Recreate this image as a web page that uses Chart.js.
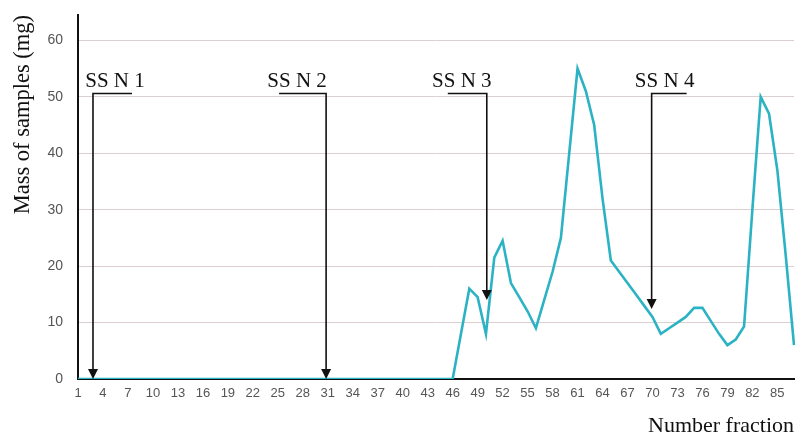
<!DOCTYPE html>
<html>
<head>
<meta charset="utf-8">
<script src="https://cdn.jsdelivr.net/npm/chart.js@4.4.1/dist/chart.umd.min.js"></script>
<style>
  html, body { margin: 0; padding: 0; background: #ffffff; }
  #wrap { width: 810px; height: 439px; }
</style>
</head>
<body>
<div id="wrap"><canvas id="myChart" width="810" height="439"></canvas></div>
<script>
// fractions 1..87
const fractions = [];
for (let i = 1; i <= 87; i++) fractions.push(String(i));

// mass of each fraction (mg)
const mass = [
  0, 0, 0, 0, 0, 0, 0, 0, 0, 0,       // 1-10
  0, 0, 0, 0, 0, 0, 0, 0, 0, 0,       // 11-20
  0, 0, 0, 0, 0, 0, 0, 0, 0, 0,       // 21-30
  0, 0, 0, 0, 0, 0, 0, 0, 0, 0,       // 31-40
  0, 0, 0, 0, 0, 0, 8, 16, 14.5, 8,   // 41-50
  21.5, 24.5, 17, 14.5, 12, 9, 14, 19, 25, 40,   // 51-60
  55, 51, 45, 32, 21, 19, 17, 15, 13, 11,        // 61-70
  8, 9, 10, 11, 12.6, 12.6, 10.3, 8, 6, 7,       // 71-80
  9.3, 30, 50, 47, 37, 22, 6                     // 81-87
];

// sample markers "SS N x": position on the x axis (fraction) and arrow tip value
const markerLabels = ["SS N 1", "SS N 2", "SS N 3", "SS N 4"];
const markerFraction = [2.8, 30.8, 50.1, 69.9];
const markerTip = [0, 0, 14, 12.4];
const markerLevel = 50.6;

const yTicks = [0, 10, 20, 30, 40, 50, 60];

// Vẽ mũi tên và chữ SS N
const markerPlugin = {
  id: "markers",
  afterDatasetsDraw(chart, args, opts) {
    const ctx = chart.ctx;
    const xs = chart.scales.x;
    const ys = chart.scales.y;
    ctx.save();
    ctx.strokeStyle = "#111";
    ctx.fillStyle = "#111";
    ctx.lineWidth = 1.6;
    ctx.font = "21px 'Liberation Serif', 'Times New Roman', serif";
    ctx.textAlign = "center";
    ctx.textBaseline = "alphabetic";
    markerLabels.forEach((lab, i) => {
      const x = xs.getPixelForValue(markerFraction[i] - 1);
      const yTop = ys.getPixelForValue(markerLevel);
      const yTip = ys.getPixelForValue(markerTip[i]);
      const x2 = x + opts.ledge[i];
      ctx.beginPath();
      ctx.moveTo(x2, yTop);
      ctx.lineTo(x, yTop);
      ctx.lineTo(x, yTip - 8);
      ctx.stroke();
      ctx.beginPath();
      ctx.moveTo(x - 5, yTip - 10);
      ctx.lineTo(x + 5, yTip - 10);
      ctx.lineTo(x, yTip);
      ctx.closePath();
      ctx.fill();
      ctx.fillText(lab, x + opts.textDx[i], yTop - 6);
    });
    ctx.restore();
  },
};

const data = {
  labels: fractions,
  datasets: [
    {
      data: mass,
      borderColor: "#2bb3c4",
      borderWidth: 2.6,
      pointRadius: 0,
      tension: 0,
      fill: false,
    },
  ],
};

const config = {
  type: "line",
  data: data,
  options: {
    responsive: false,
    animation: false,
    layout: { padding: { left: 8, right: 16, top: 15, bottom: 0 } },
    plugins: {
      legend: { display: false },
      tooltip: { enabled: false },
      markers: {
        ledge: [39, -47, -39, 35],
        textDx: [22, -29, -25, 13],
      },
    },
    scales: {
      x: {
        offset: false,
        grid: { display: false, drawTicks: false },
        border: { color: "#111", width: 2 },
        ticks: {
          autoSkip: false,
          maxRotation: 0,
          padding: 7,
          color: "#555",
          font: { family: "'Liberation Sans', Arial, sans-serif", size: 13 },
          callback: (v, i) => (i % 3 === 0 ? fractions[i] : ""),
        },
        title: {
          display: true,
          text: "Number fraction",
          align: "end",
          color: "#111",
          padding: { top: 4, bottom: 0 },
          font: { family: "'Liberation Serif', 'Times New Roman', serif", size: 22 },
        },
      },
      y: {
        min: 0,
        max: 64.5,
        afterBuildTicks: (axis) => {
          axis.ticks = yTicks.map((v) => ({ value: v }));
        },
        afterFit: (axis) => {
          axis.width = 70;
          axis.paddingTop = 0;
        },
        grid: { color: "#dccfcf", lineWidth: 1, drawTicks: false },
        border: { color: "#111", width: 2 },
        ticks: {
          padding: 15,
          color: "#555",
          font: { family: "'Liberation Sans', Arial, sans-serif", size: 14 },
        },
        title: {
          display: true,
          text: "Mass of samples (mg)",
          align: "end",
          color: "#111",
          padding: { top: 2, bottom: 2 },
          font: { family: "'Liberation Serif', 'Times New Roman', serif", size: 22.5 },
        },
      },
    },
  },
  plugins: [markerPlugin],
};

// Vẽ biểu đồ lên canvas
const ctx = document.getElementById("myChart").getContext("2d");
new Chart(ctx, config);
</script>
</body>
</html>
